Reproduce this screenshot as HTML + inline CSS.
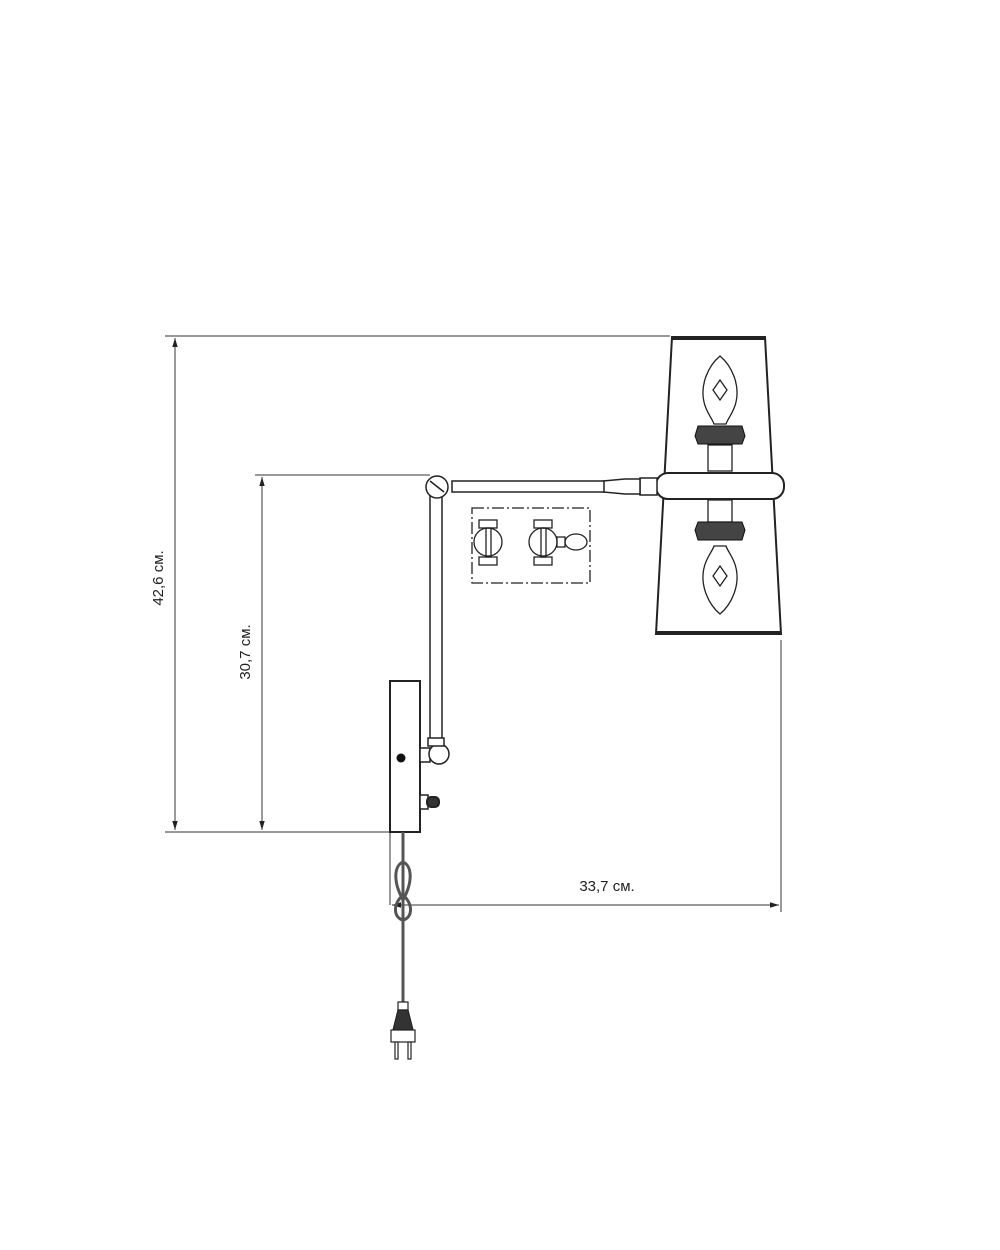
<!DOCTYPE html>
<html><head><style>body{margin:0;background:#fff}svg{display:block}text{font-family:"Liberation Sans",sans-serif;font-size:15px;fill:#222}</style></head><body>
<svg width="1000" height="1250" viewBox="0 0 1000 1250" xmlns="http://www.w3.org/2000/svg">
<defs><marker id="a" viewBox="0 0 10 10" refX="10" refY="5" markerWidth="9" markerHeight="9" orient="auto-start-reverse"><path d="M0,2 L10,5 L0,8 z" fill="#222"/></marker></defs>
<g stroke="#333" stroke-width="1" fill="none">
<line x1="165" y1="336" x2="670" y2="336"/>
<line x1="175" y1="338" x2="175" y2="830" marker-start="url(#a)" marker-end="url(#a)"/>
<line x1="165" y1="832" x2="390" y2="832"/>
<line x1="255" y1="475" x2="430" y2="475"/>
<line x1="262" y1="477" x2="262" y2="830" marker-start="url(#a)" marker-end="url(#a)"/>
<line x1="781" y1="640" x2="781" y2="912"/>
<line x1="390" y1="832" x2="390" y2="905"/>
<line x1="392" y1="905" x2="779" y2="905" marker-start="url(#a)" marker-end="url(#a)"/>
</g>
<text transform="translate(163,578) rotate(-90)" text-anchor="middle">42,6 см.</text>
<text transform="translate(250,652) rotate(-90)" text-anchor="middle">30,7 см.</text>
<text x="607" y="891" text-anchor="middle">33,7 см.</text>
<g stroke="#222" stroke-width="2" fill="#fff">
<path d="M672,337 L765,337 L781,634 L656,634 Z"/>
<line x1="672" y1="338" x2="765" y2="338" stroke-width="4"/>
<line x1="656" y1="633" x2="781" y2="633" stroke-width="4"/>
<rect x="656" y="473" width="128" height="26" rx="12"/>
<rect x="640" y="478" width="17" height="17" stroke-width="1.5"/>
<path d="M603,481 L625,479 L640,479 L640,494 L625,494 L603,492 Z" stroke-width="1.5"/>
<rect x="452" y="481" width="152" height="11" stroke-width="1.5"/>
<rect x="430" y="495" width="12" height="245" stroke-width="1.5"/>
<circle cx="437" cy="487" r="11" stroke-width="1.5"/>
<line x1="430" y1="481" x2="444" y2="492" stroke-width="1.5"/>
<rect x="390" y="681" width="30" height="151"/>
<rect x="420" y="748" width="10" height="14" stroke-width="1.5"/>
<circle cx="439" cy="754" r="10" stroke-width="1.5"/>
<rect x="428" y="738" width="16" height="8" stroke-width="1.5"/>
<rect x="420" y="795" width="8" height="14" stroke-width="1.5"/>
<rect x="427" y="797" width="12" height="10" rx="4" fill="#333"/>
</g>
<circle cx="401" cy="758" r="4.5" fill="#111"/>
<g stroke="#222" stroke-width="1.3" fill="none">
<path d="M720,356 C708,366 700,385 704,402 C706,412 712,418 714,424 L726,424 C728,418 734,412 736,402 C740,385 732,366 720,356 Z"/>
<path d="M720,400 L713,390 L720,380 L727,390 Z"/>
<path d="M720,614 C708,604 700,585 704,568 C706,558 712,552 714,546 L726,546 C728,552 734,558 736,568 C740,585 732,604 720,614 Z"/>
<path d="M720,566 L713,576 L720,586 L727,576 Z"/>
<rect x="708" y="445" width="24" height="26"/>
<rect x="708" y="500" width="24" height="22"/>
</g>
<g fill="#444" stroke="#111">
<path d="M698,426 L742,426 L745,436 L742,444 L698,444 L695,436 Z"/>
<path d="M698,522 L742,522 L745,530 L742,540 L698,540 L695,530 Z"/>
</g>
<g stroke="#222" stroke-width="1.3" fill="none">
<rect x="472" y="508" width="118" height="75" stroke-dasharray="12,3,2,3"/>
<rect x="479" y="520" width="18" height="8"/><rect x="479" y="557" width="18" height="8"/>
<circle cx="488" cy="542" r="14"/><rect x="486" y="528" width="5" height="29"/>
<rect x="534" y="520" width="18" height="8"/><rect x="534" y="557" width="18" height="8"/>
<circle cx="543" cy="542" r="14"/><rect x="541" y="528" width="5" height="29"/>
<rect x="557" y="537" width="8" height="10"/>
<ellipse cx="576" cy="542" rx="11" ry="8"/>
</g>
<g stroke="#555" stroke-width="3" fill="none">
<line x1="403" y1="832" x2="403" y2="1003"/>
<path d="M403,900 C392,880 395,865 403,862 C411,865 414,880 403,900"/>
<path d="M403,895 C392,905 394,918 403,920 C412,918 414,905 403,895"/>
</g>
<g stroke="#222" stroke-width="1.2" fill="#fff">
<rect x="398" y="1002" width="10" height="8"/>
<path d="M398,1010 L408,1010 L413,1030 L393,1030 Z" fill="#333"/>
<rect x="391" y="1030" width="24" height="12"/>
<rect x="395" y="1042" width="3" height="17"/><rect x="408" y="1042" width="3" height="17"/>
</g>
</svg>
</body></html>
